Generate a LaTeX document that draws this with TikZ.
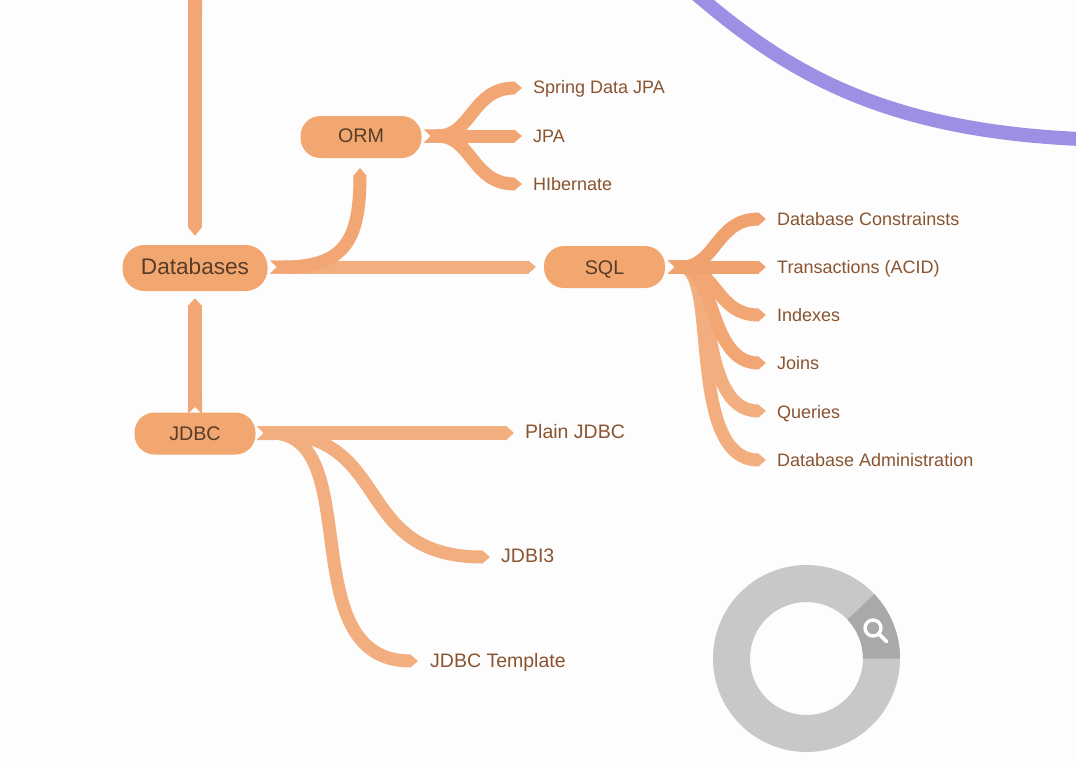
\documentclass[tikz,border=0pt]{standalone}
\usepackage{fontspec}
\setmainfont{Liberation Sans}
\usetikzlibrary{arrows.meta}
\definecolor{pagebg}{HTML}{FDFDFD}
\definecolor{ribbondark}{HTML}{EFA26D}
\definecolor{ribbonmid}{HTML}{F1A674}
\definecolor{ribbonlight}{HTML}{F3AE80}
\definecolor{nodecol}{HTML}{F2A771}
\definecolor{nodetext}{HTML}{5A3D28}
\definecolor{leaftext}{HTML}{8A5430}
\definecolor{purplecol}{HTML}{9B90E4}
\definecolor{ringlight}{HTML}{C8C8C8}
\definecolor{ringdark}{HTML}{A9A9A9}
\tikzset{
  ribbon/.style={draw=ribbonmid,line width=#1,
    {Triangle Cap[reversed,length=7pt]}-{Triangle[length=8pt,width=0pt 1,sep=0pt]}},
  ribbon/.default=13pt,
  topic/.style={fill=nodecol,rounded corners=20pt,text=nodetext,minimum width=121pt,minimum height=42pt,
    inner sep=0pt,text height=14.2pt,text depth=0pt,font=\fontsize{19.7}{22}\selectfont},
  leaf/.style={anchor=west,inner sep=0pt,text=leaftext,text height=12.9pt,text depth=0pt,font=\fontsize{18}{20}\selectfont},
  bigleaf/.style={leaf,text height=14pt,font=\fontsize{19.5}{22}\selectfont},
}
\begin{document}
\begin{tikzpicture}[x=1pt,y=-1pt]
\path[use as bounding box,fill=pagebg] (0,0) rectangle (1076,761);
% purple link
\coordinate (pstart) at (696,-6);
\coordinate (pend) at (1080,139);
\draw[purplecol,line width=14pt] (pstart) .. controls (785,70) and (880,130) .. (pend);
% nodes
\node[topic,minimum width=145pt,minimum height=46pt,rounded corners=22pt,text height=16.3pt,text depth=3pt,font=\fontsize{22.6}{26}\selectfont] (db) at (195,268) {Databases};
\node[topic,text depth=4pt] (orm) at (361,137) {ORM};
\node[topic] (sql) at (604.5,267) {SQL};
\node[topic] (jdbc) at (195,433.5) {JDBC};
\node[leaf] (spring) at (533,87) {Spring Data JPA};
\node[leaf] (jpa) at (533,136) {JPA};
\node[leaf] (hib) at (533,184) {HIbernate};
\node[leaf] (cons) at (777,219) {Database Constrainsts};
\node[leaf] (acid) at (777,267) {Transactions (ACID)};
\node[leaf] (idx) at (777,315) {Indexes};
\node[leaf] (joins) at (777,363) {Joins};
\node[leaf] (queries) at (777,412) {Queries};
\node[leaf] (admin) at (777,460) {Database Administration};
\node[bigleaf] (plain) at (525,431) {Plain JDBC};
\node[bigleaf] (jdbi) at (501,555) {JDBI3};
\node[bigleaf] (tmpl) at (430,660) {JDBC Template};
\coordinate (topfree) at (195,-5);
% connector ends, on the level of each ribbon
\coordinate (dbout) at (270,267);
\coordinate (sqlin) at (536,267);
\coordinate (ormin) at (360,168);
\coordinate (ormout) at (424,136);
\coordinate (sqlout) at (668,267);
\coordinate (jdbcout) at (257,433);
\coordinate (springin) at (522,88);
\coordinate (jpain) at (522,136);
\coordinate (hibin) at (522,184);
\coordinate (consin) at (766,219);
\coordinate (acidin) at (766,267);
\coordinate (idxin) at (766,315);
\coordinate (joinsin) at (766,363);
\coordinate (queriesin) at (766,411);
\coordinate (adminin) at (766,460);
\coordinate (plainin) at (514,433);
\coordinate (jdbiin) at (490,557);
\coordinate (tmplin) at (418,661);
% connectors
\draw[ribbon=14pt,{Butt Cap}-{Triangle[length=9pt,width=0pt 1,sep=0pt]}] (topfree) -- ([yshift=9pt]db.north);
\draw[ribbon=14pt] ([yshift=-1.5pt]jdbc.north) -- ([yshift=-7pt]db.south);
\draw[ribbon,ribbonlight] (dbout) -- (sqlin);
\draw[ribbon] (dbout) .. controls +(75,0) and +(0,72) .. (ormin);
\draw[ribbon] (ormout) .. controls +(48,0) and +(-50,0) .. (springin);
\draw[ribbon] (ormout) .. controls +(48,0) and +(-50,0) .. (hibin);
\draw[ribbon] (ormout) -- (jpain);
\draw[ribbon,ribbonlight] (sqlout) .. controls +(52,0) and +(-81,0) .. (adminin);
\draw[ribbon,ribbonlight] (sqlout) .. controls +(50,0) and +(-70,0) .. (queriesin);
\draw[ribbon] (sqlout) .. controls +(48,0) and +(-58,0) .. (joinsin);
\draw[ribbon] (sqlout) .. controls +(48,0) and +(-50,0) .. (idxin);
\draw[ribbon,ribbondark] (sqlout) .. controls +(48,0) and +(-50,0) .. (consin);
\draw[ribbon,ribbondark] (sqlout) -- (acidin);
\draw[ribbon,ribbonlight] (jdbcout) .. controls +(111,0) and +(-128,0) .. (tmplin);
\draw[ribbon,ribbonlight] (jdbcout) .. controls +(138,0) and +(-140,0) .. (jdbiin);
\draw[ribbon=14pt,ribbonlight] (jdbcout) -- (plainin);
% ring
\coordinate (ringc) at (806.5,658.5);
\fill[ringlight,even odd rule] (ringc) circle[radius=93.5] (ringc) circle[radius=56.5];
\fill[ringdark] (ringc) ++(0:56.5) -- ++(0:37) arc[start angle=0,end angle=-43.5,radius=93.5] -- ++(136.5:37) arc[start angle=-43.5,end angle=0,radius=56.5] -- cycle;
\draw[white,line width=3.4pt] (873,628) circle[radius=8];
\draw[white,line width=3.6pt,line cap=round] (879,634) -- (886.5,641.5);
\end{tikzpicture}
\end{document}
